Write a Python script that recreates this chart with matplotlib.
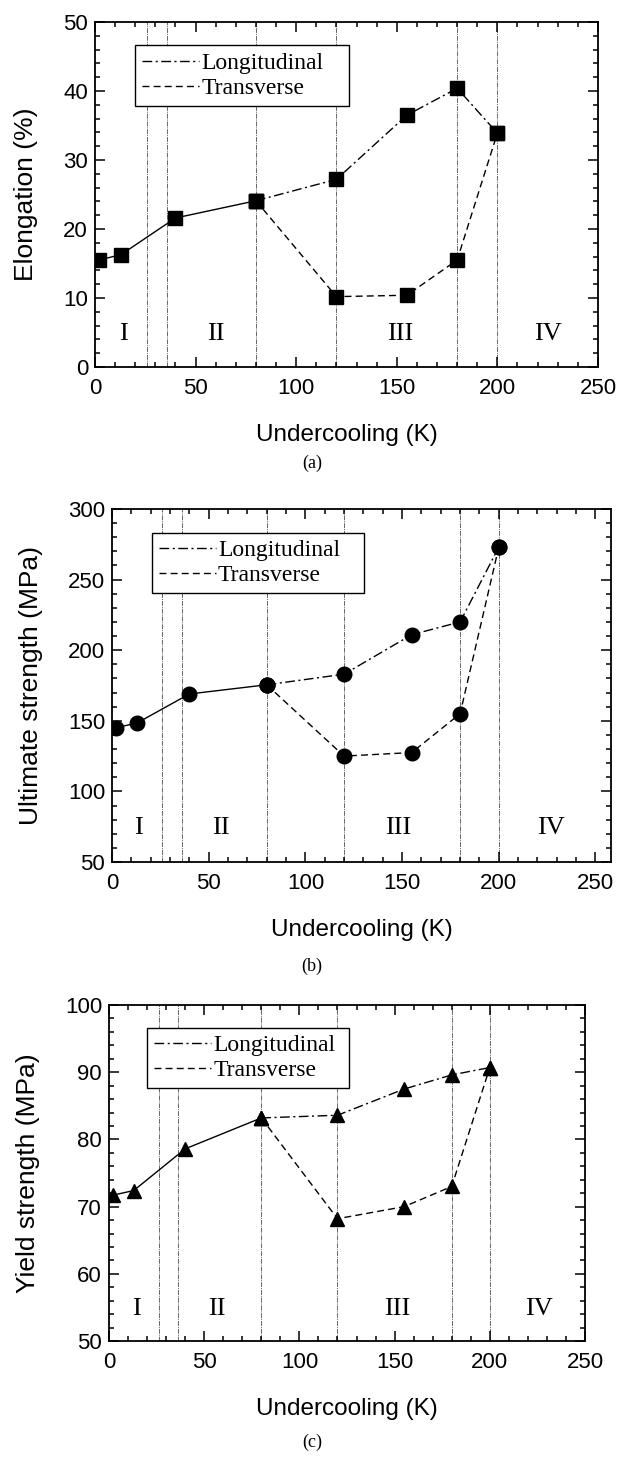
import matplotlib
matplotlib.use('Agg')
import matplotlib.pyplot as plt
from matplotlib.lines import Line2D
from matplotlib.ticker import MultipleLocator

plt.rcParams['font.family'] = ['Liberation Sans', 'DejaVu Sans']

# --- data ---
x_common = [2, 13, 40, 80]
x_split = [80, 120, 155, 180, 200]

elong_common = [15.5, 16.3, 21.6, 24.1]
elong_long = [24.1, 27.2, 36.5, 40.4, 33.9]
elong_trans = [24.1, 10.2, 10.4, 15.5, 33.9]

uts_common = [145, 148.5, 169, 175.5]
uts_long = [175.5, 183, 211, 220, 273]
uts_trans = [175.5, 125, 127.5, 155, 273]

ys_common = [71.7, 72.4, 78.6, 83.2]
ys_long = [83.2, 83.6, 87.5, 89.6, 90.7]
ys_trans = [83.2, 68.2, 70.0, 73.0, 90.7]

boundaries = [26, 36, 80, 120, 180, 200]
region_labels = ['I', 'II', 'III', 'IV']

# --- styling ---
dashdot = (0, (7, 2.5, 1.5, 2.5))
dashed = (0, (5, 3))
vline_style = (0, (5, 1, 1, 1))
serif = ['Liberation Serif', 'DejaVu Serif']

fig = plt.figure(figsize=(6.18, 14.61), dpi=100)

panels = [
    # rect, ylabel, ylim, major, minor, common, long, trans, marker, ms, xmax, region x, caption, caption y(px)
    ([0.1537, 0.7488, 0.8139, 0.2361], 'Elongation (%)', (0, 50), 10, 2,
     elong_common, elong_long, elong_trans, 's', 9.5, 250, [14, 60, 151.5, 225], '(a)', 463),
    ([0.1812, 0.4100, 0.8074, 0.2416], 'Ultimate strength (MPa)', (50, 300), 50, 10,
     uts_common, uts_long, uts_trans, 'o', 10.5, 258, [13.5, 56.5, 148, 227], '(b)', 966),
    ([0.1764, 0.0821, 0.7702, 0.2300], 'Yield strength (MPa)', (50, 100), 10, 2,
     ys_common, ys_long, ys_trans, '^', 10.5, 250, [14.2, 56.7, 151.5, 226], '(c)', 1442),
]

for (rect, ylabel, ylim, major, minor, common, longi, trans, marker, ms,
     xmax, reg_x, caption, cap_y) in panels:
    ax = fig.add_axes(rect)

    for b in boundaries:
        ax.axvline(b, color='0.4', lw=0.7, linestyle=vline_style, zorder=1)

    ax.plot(x_common, common, color='k', lw=1.0, marker=marker, ms=ms, zorder=3)
    ax.plot(x_split, longi, color='k', lw=1.0, linestyle=dashdot,
            marker=marker, ms=ms, zorder=3)
    ax.plot(x_split, trans, color='k', lw=1.0, linestyle=dashed,
            marker=marker, ms=ms, zorder=3)

    ax.set_xlim(0, xmax)
    ax.set_ylim(*ylim)
    ax.set_xticks([0, 50, 100, 150, 200, 250])
    ax.xaxis.set_minor_locator(MultipleLocator(10))
    ax.yaxis.set_major_locator(MultipleLocator(major))
    ax.yaxis.set_minor_locator(MultipleLocator(minor))
    ax.tick_params(which='both', direction='in', top=True, right=True,
                   width=1.1, labelsize=16)
    ax.tick_params(which='major', length=7)
    ax.tick_params(which='minor', length=3.5)
    ax.tick_params(axis='x', pad=8)
    ax.tick_params(axis='y', pad=5)
    for sp in ax.spines.values():
        sp.set_linewidth(1.3)

    ax.set_xlabel('Undercooling (K)', fontsize=17.5, labelpad=18)
    ax.set_ylabel(ylabel, fontsize=19, labelpad=18)

    for xr, lab in zip(reg_x, region_labels):
        ax.text(xr, 0.095, lab, transform=ax.get_xaxis_transform(),
                ha='center', va='center', fontsize=19, family=serif)

    handles = [Line2D([], [], color='k', lw=1.0, linestyle=dashdot),
               Line2D([], [], color='k', lw=1.0, linestyle=dashed)]
    leg = ax.legend(handles, ['Longitudinal', 'Transverse'],
                    loc='upper left', bbox_to_anchor=(0.08, 0.5, 0.425, 0.433),
                    mode='expand', fancybox=False, framealpha=1,
                    edgecolor='k', prop={'family': serif, 'size': 17},
                    handlelength=2.4, handletextpad=0.1, borderpad=0.3,
                    labelspacing=0.15, borderaxespad=0)
    leg.get_frame().set_linewidth(1.0)

    fig.text(0.505, 1 - cap_y / 1461, caption, ha='center', va='center',
             fontsize=13, family=serif)

fig.savefig('out.png', dpi=100)
